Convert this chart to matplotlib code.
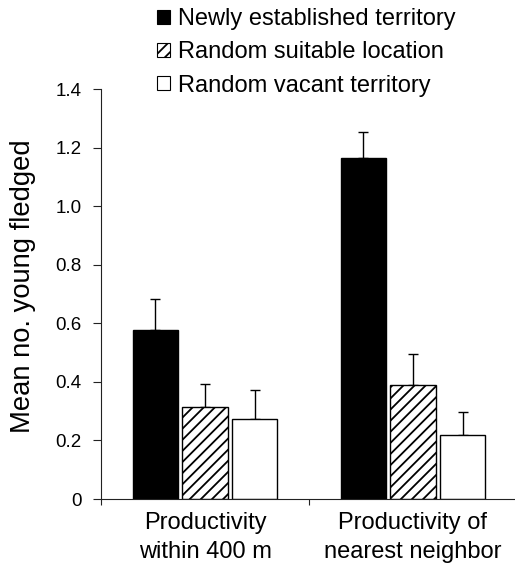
import numpy as np
import matplotlib
matplotlib.use('Agg')
import matplotlib.pyplot as plt
from matplotlib.patches import Patch
from matplotlib.ticker import FuncFormatter

plt.rcParams['font.family'] = ['Liberation Sans', 'DejaVu Sans']
plt.rcParams['hatch.linewidth'] = 1.3

# data
groups = ['Productivity\nwithin 400 m', 'Productivity of\nnearest neighbor']
series = ['Newly established territory', 'Random suitable location',
          'Random vacant territory']
newly = [0.577, 1.163]
newly_se = [0.106, 0.091]
suitable = [0.315, 0.389]
suitable_se = [0.079, 0.106]
vacant = [0.272, 0.218]
vacant_se = [0.101, 0.079]

fig = plt.figure(figsize=(5.15, 5.77), dpi=100)
ax = fig.add_axes([101 / 515, 78 / 577, 416 / 515, 410 / 577])

x = np.arange(len(groups))
width = 0.22
step = 0.238
styles = [dict(facecolor='black', hatch=None),
          dict(facecolor='white', hatch='///'),
          dict(facecolor='white', hatch=None)]
values = [newly, suitable, vacant]
errors = [newly_se, suitable_se, vacant_se]

for i, (vals, errs, st) in enumerate(zip(values, errors, styles)):
    pos = x + (i - 1) * step
    ax.bar(pos, vals, width, facecolor=st['facecolor'], hatch=st['hatch'],
           edgecolor='black', linewidth=1.0, zorder=2)
    ax.errorbar(pos, vals, yerr=[np.zeros(len(vals)), errs], fmt='none',
                ecolor='black', elinewidth=1.0, capsize=3.6, capthick=1.0,
                zorder=1)

ax.set_xlim(-0.5, 1.5)
ax.set_ylim(0, 1.4)

# 只保留左边和下边的坐标轴
ax.spines['top'].set_visible(False)
ax.spines['right'].set_visible(False)
for s in ['left', 'bottom']:
    ax.spines[s].set_linewidth(0.8)
    ax.spines[s].set_color('#222222')

ax.set_yticks(np.arange(0, 1.41, 0.2))
ax.yaxis.set_major_formatter(FuncFormatter(lambda v, p: '0' if abs(v) < 1e-9 else '%.1f' % v))
ax.tick_params(axis='y', direction='out', length=5.8, width=0.8, pad=8,
               labelsize=13.5, color='#222222')

ax.set_xticks(x)
ax.set_xticklabels(groups, fontsize=17, linespacing=1.42)
ax.tick_params(axis='x', which='major', length=0, pad=9)
ax.set_xticks([-0.5, 0.5, 1.5], minor=True)
ax.tick_params(axis='x', which='minor', direction='out', length=4.5,
               width=0.8, color='#222222')

ax.set_ylabel('Mean no. young fledged', fontsize=19.7)
ax.yaxis.set_label_coords(-0.156, 0.52)

handles = [Patch(facecolor=st['facecolor'], hatch=st['hatch'], edgecolor='black',
                 linewidth=0.8) for st in styles]
fig.legend(handles, series, loc='upper left', bbox_to_anchor=(157 / 515, 1 - 8 / 577),
           frameon=False, fontsize=17, handlelength=0.55, handleheight=0.55,
           handletextpad=0.35, labelspacing=0.48, borderpad=0, borderaxespad=0)

fig.savefig('out.png', dpi=100)
